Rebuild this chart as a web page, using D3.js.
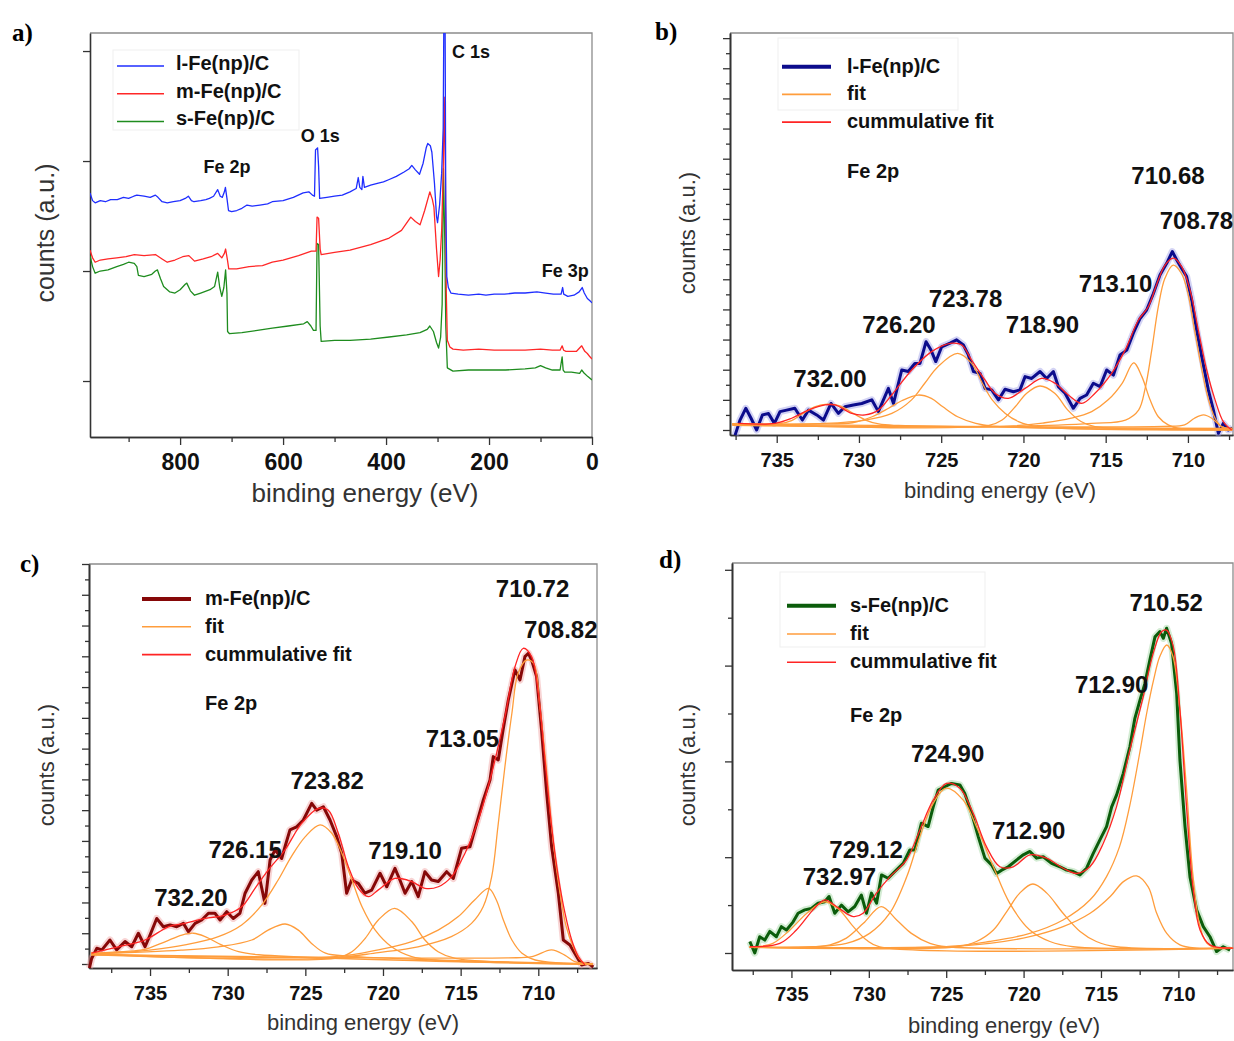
<!DOCTYPE html>
<html>
<head>
<meta charset="utf-8">
<script src="https://cdn.jsdelivr.net/npm/d3@7"></script>
<style>
  body { margin: 0; background: #fff; }
</style>
</head>
<body>
<svg id="fig" width="1234" height="1041"></svg>
<script>
// ---------------- panel a: survey spectra [binding energy eV, counts a.u.]
const surveyL = [[975,2.71],[970,2.64],[965,2.62],[955,2.64],[945,2.63],[935,2.65],[922,2.65],[910,2.67],[900,2.66],[890,2.68],[884,2.69],[870,2.68],[858,2.67],[848,2.69],[843,2.67],[835,2.63],[825,2.62],[813,2.63],[800,2.64],[790,2.66],[784,2.68],[778,2.64],[773,2.63],[760,2.64],[750,2.65],[743,2.66],[735,2.68],[727,2.74],[722,2.68],[718,2.67],[714,2.72],[712,2.76],[709,2.66],[706,2.55],[700,2.54],[690,2.55],[680,2.57],[670,2.6],[660,2.59],[645,2.6],[630,2.61],[621,2.63],[600,2.64],[580,2.67],[561,2.71],[550,2.72],[543,2.69],[539,2.68],[537,3.1],[533,3.12],[531,2.95],[529,2.66],[515,2.67],[500,2.68],[485,2.69],[470,2.72],[458,2.75],[454,2.85],[451,2.76],[447,2.74],[445,2.86],[442,2.76],[430,2.78],[415,2.8],[405,2.81],[395,2.83],[380,2.86],[365,2.9],[355,2.93],[350,2.96],[343,2.92],[335,2.88],[328,2.98],[322,3.12],[319,3.16],[314,3.14],[311,3.08],[306,2.8],[302,2.5],[300,2.44],[296,2.6],[292,2.89],[289,3.3],[287.5,4.5],[285.5,4.5],[284,2.6],[282,1.95],[279,1.85],[274,1.8],[260,1.79],[240,1.78],[220,1.79],[206,1.78],[190,1.79],[170,1.79],[150,1.8],[130,1.8],[107,1.81],[90,1.8],[75,1.79],[60,1.79],[57,1.85],[55,1.79],[47,1.77],[35,1.78],[25,1.81],[19,1.85],[15,1.8],[9,1.75],[4,1.73],[0,1.71]];
const surveyM = [[975,2.19],[970,2.12],[965,2.08],[955,2.1],[940,2.11],[923,2.12],[905,2.13],[889,2.15],[870,2.14],[848,2.15],[835,2.11],[825,2.08],[810,2.1],[795,2.13],[783,2.14],[772,2.09],[755,2.11],[740,2.13],[727,2.16],[719,2.12],[714,2.16],[711.6,2.2],[708,2.1],[705.5,2.02],[690,2.02],[666,2.04],[640,2.05],[621,2.08],[600,2.1],[570,2.14],[545,2.18],[536,2.18],[534,2.49],[531,2.48],[528,2.2],[526,2.15],[500,2.17],[470,2.19],[430,2.24],[394,2.3],[370,2.37],[352,2.49],[343,2.45],[334,2.42],[325,2.55],[315,2.72],[310,2.65],[307,2.58],[302,2.2],[298,1.95],[295,2.1],[292,2.37],[289,2.9],[287,3.58],[285,3.0],[283,1.8],[281,1.37],[276,1.31],[270,1.29],[250,1.28],[220,1.29],[190,1.28],[168,1.28],[130,1.28],[100,1.29],[77,1.28],[62,1.28],[58,1.32],[55,1.28],[50.6,1.27],[40,1.27],[30,1.27],[20,1.32],[14,1.27],[9,1.25],[4,1.22],[0,1.2]];
const surveyS = [[975,2.14],[970,2.04],[965,1.98],[955,2.0],[940,2.01],[923,2.04],[910,2.06],[900,2.08],[889,2.07],[884,2.04],[881,1.96],[870,1.95],[855,1.97],[848,2.0],[844,2.01],[838,1.93],[832,1.86],[820,1.81],[810,1.8],[800,1.83],[790,1.88],[787,1.89],[780,1.82],[772,1.78],[760,1.8],[742,1.83],[733,1.86],[727,1.99],[723,1.85],[719,1.77],[715,1.85],[711.6,2.01],[709,1.8],[707.8,1.45],[704,1.43],[680,1.44],[650,1.46],[621,1.48],[590,1.5],[560,1.52],[553,1.54],[546,1.5],[541,1.46],[536,1.46],[534,2.25],[531,2.24],[528,1.5],[526,1.36],[500,1.37],[470,1.37],[430,1.38],[394,1.4],[360,1.42],[334,1.44],[320,1.47],[315,1.5],[308,1.45],[302,1.35],[298,1.3],[294,1.4],[291,1.7],[288.6,2.93],[286,2.3],[284,1.5],[281,1.12],[270,1.09],[240,1.1],[200,1.1],[168,1.1],[130,1.11],[110,1.12],[100,1.14],[90,1.12],[77,1.1],[62,1.1],[58,1.22],[56,1.1],[53,1.08],[40,1.08],[24,1.07],[20,1.1],[15,1.07],[8,1.04],[0,1.01]];
const surveyNames = ['l-Fe(np)/C', 'm-Fe(np)/C', 's-Fe(np)/C'];
const surveyPeaks = [['C 1s', 235, 3.94], ['O 1s', 528, 3.17], ['Fe 2p', 709, 2.89], ['Fe 3p', 52, 1.95]];
const surveyTicks = [800, 600, 400, 200, 0];
const surveyMinor = [900, 700, 500, 300, 100];
const surveyYTicks = [1, 2, 3, 4];

// ---------------- panels b-d: Fe 2p region
const fe2pTicks = [735, 730, 725, 720, 715, 710];
const fe2pMinor = [737.5, 732.5, 727.5, 722.5, 717.5, 712.5, 707.5];
const fitNames = ['fit', 'cummulative fit'];

// b) l-Fe(np)/C
const bData = [[737.53,-0.17],[737.23,0.33],[736.88,0.72],[736.56,0.39],[736.22,0.0],[735.87,0.5],[735.5,0.55],[735.14,0.22],[734.8,0.61],[734.4,0.66],[733.9,0.72],[733.44,0.33],[733.07,0.66],[732.57,0.5],[732.16,0.33],[731.7,0.88],[731.25,0.55],[730.85,0.77],[730.34,0.83],[729.83,0.88],[729.22,1.0],[728.82,0.61],[728.21,1.38],[727.9,0.88],[727.4,1.99],[727.0,1.94],[726.6,2.21],[726.29,2.21],[725.92,2.93],[725.62,2.65],[725.33,2.27],[724.97,2.76],[724.46,2.88],[724.06,2.99],[723.65,2.82],[723.35,2.49],[723.04,1.94],[722.64,1.88],[722.33,1.38],[721.93,1.33],[721.52,1.0],[721.12,1.35],[720.61,1.27],[720.21,1.33],[719.9,1.77],[719.5,1.71],[718.99,1.94],[718.59,1.71],[718.18,1.94],[717.88,1.44],[717.47,1.22],[716.97,0.72],[716.56,1.05],[716.16,1.16],[715.75,1.55],[715.34,1.44],[714.94,1.99],[714.53,1.82],[714.13,2.49],[713.72,2.65],[713.32,3.21],[712.91,3.7],[712.51,3.98],[712.1,4.53],[711.7,5.14],[711.29,5.53],[710.95,5.92],[710.68,5.64],[710.38,5.36],[710.08,5.09],[709.77,4.31],[709.47,3.32],[709.16,2.43],[708.76,1.33],[708.45,0.66],[708.15,-0.11],[707.85,0.22],[707.54,0.0],[707.3,0.06]];
const bFits = [
  [[737.7,0.2],[734.9,0.2],[734.1,0.31],[733.4,0.55],[732.7,0.77],[731.9,0.86],[731.15,0.8],[730.35,0.55],[729.6,0.33],[728.8,0.2],[727.6,0.15],[707.3,0.05]],
  [[737.7,0.18],[732.5,0.2],[730.4,0.24],[729.2,0.44],[728.2,0.72],[727.4,0.97],[726.4,1.16],[725.6,1.05],[724.9,0.77],[724.0,0.44],[722.9,0.22],[721.9,0.13],[707.3,0.02]],
  [[737.7,0.2],[732.1,0.22],[729.6,0.33],[728.0,0.55],[726.8,1.0],[726.0,1.55],[725.2,2.1],[724.0,2.54],[723.15,2.21],[722.5,1.55],[721.9,1.0],[721.1,0.55],[720.3,0.28],[719.1,0.11],[707.3,0.0]],
  [[737.7,0.2],[722.1,0.15],[721.3,0.33],[720.5,0.77],[719.8,1.22],[719.0,1.46],[718.1,1.22],[717.3,0.66],[716.5,0.28],[715.65,0.11],[707.3,0.02]],
  [[737.7,0.18],[720.9,0.13],[718.7,0.24],[717.1,0.39],[715.85,0.61],[714.85,1.0],[714.0,1.55],[713.3,2.23],[712.8,1.77],[712.3,1.0],[711.8,0.44],[711.2,0.17],[710.6,0.06],[707.3,0.0]],
  [[737.7,0.15],[721.9,0.11],[715.85,0.22],[713.8,0.33],[713.0,0.66],[712.6,1.38],[712.2,2.65],[711.8,4.09],[711.4,5.03],[710.9,5.47],[710.4,5.2],[710.0,4.53],[709.6,3.32],[709.15,1.99],[708.75,1.0],[708.35,0.39],[707.95,0.11],[707.3,0.0]],
  [[737.7,0.2],[711.5,0.12],[710.2,0.17],[709.6,0.39],[709.05,0.5],[708.55,0.39],[707.95,0.11],[707.3,0.05]]
];
const bCum = [[737.33,0.22],[735.1,0.22],[734.09,0.39],[733.07,0.66],[732.06,0.83],[731.45,0.83],[730.44,0.55],[729.63,0.5],[728.82,0.66],[728.01,1.16],[726.79,1.99],[725.58,2.6],[724.36,2.88],[723.75,2.82],[723.15,2.32],[722.34,1.66],[721.73,1.22],[720.92,1.05],[719.9,1.38],[718.89,1.71],[718.08,1.55],[717.27,1.16],[716.46,0.88],[715.65,1.22],[714.64,1.88],[713.82,2.65],[713.01,3.65],[712.41,4.09],[711.8,4.98],[711.39,5.47],[710.89,5.7],[710.38,5.42],[709.87,4.64],[709.37,3.32],[708.86,1.99],[708.35,1.0],[707.85,0.28],[707.34,0.0]];
const bPeaks = [['732.00',731.76,1.42],['726.20',727.57,3.21],['723.78',723.52,4.09],['718.90',718.84,3.21],['713.10',714.4,4.57],['710.68',711.21,8.16],['708.78',709.48,6.66]];

// c) m-Fe(np)/C
const cData = [[738.9,-0.13],[738.76,0.18],[738.43,0.51],[738.1,0.46],[737.58,0.78],[737.15,0.46],[736.61,0.73],[736.18,0.56],[735.75,1.0],[735.32,0.56],[735.0,0.94],[734.57,1.48],[734.14,1.21],[733.71,1.27],[733.28,1.21],[732.85,1.32],[732.53,1.05],[732.1,1.32],[731.67,1.43],[731.24,1.65],[730.82,1.65],[730.49,1.43],[730.06,1.7],[729.64,1.48],[729.21,1.65],[728.88,2.3],[728.45,2.73],[728.03,3.0],[727.6,1.97],[727.27,3.38],[726.95,3.71],[726.52,3.43],[726.31,3.81],[725.99,4.36],[725.56,4.46],[725.13,4.68],[724.59,5.22],[724.27,5.0],[723.84,5.11],[723.41,4.68],[722.98,4.14],[722.66,3.6],[722.34,2.3],[722.02,2.73],[721.59,2.62],[721.16,2.3],[720.73,2.4],[720.19,2.95],[719.76,2.51],[719.23,3.11],[718.91,2.73],[718.58,2.3],[718.15,2.68],[717.73,2.19],[717.3,3.0],[716.87,2.73],[716.44,2.68],[715.9,3.0],[715.47,2.78],[714.94,3.76],[714.4,3.81],[713.97,4.57],[713.54,5.33],[713.11,5.98],[712.9,6.74],[712.58,6.63],[712.25,7.66],[711.93,8.58],[711.5,9.56],[711.18,9.23],[710.86,9.99],[710.64,10.1],[710.43,9.88],[710.11,9.34],[709.79,7.6],[709.46,5.55],[709.14,3.81],[708.71,2.3],[708.39,0.78],[707.96,0.62],[707.53,0.24],[707.21,-0.03],[706.78,0.02],[706.46,-0.1]];
const cFits = [
  [[738.8,0.35],[735.6,0.45],[735.1,0.51],[734.0,0.73],[732.95,0.94],[732.2,1.0],[731.45,0.89],[730.4,0.62],[729.3,0.4],[728.0,0.3],[706.5,-0.02]],
  [[738.8,0.33],[733.0,0.45],[730.6,0.56],[728.45,0.78],[727.4,1.1],[726.3,1.3],[725.45,1.1],[724.6,0.67],[723.7,0.35],[722.0,0.25],[706.5,0.0]],
  [[738.8,0.35],[737.0,0.37],[734.9,0.46],[732.75,0.62],[730.6,0.89],[729.1,1.27],[727.8,1.92],[726.75,2.73],[725.9,3.49],[725.0,4.14],[724.05,4.52],[723.3,4.25],[722.65,3.6],[722.0,2.73],[721.35,1.86],[720.5,1.1],[719.45,0.56],[718.15,0.24],[716.65,0.13],[706.5,0.0]],
  [[738.8,0.33],[722.9,0.2],[722.0,0.4],[721.15,0.83],[720.3,1.43],[719.25,1.81],[718.15,1.38],[717.3,0.78],[716.45,0.4],[715.35,0.18],[706.5,0.0]],
  [[738.8,0.33],[723.1,0.24],[720.3,0.46],[718.15,0.73],[716.45,1.1],[715.15,1.54],[714.1,2.08],[713.2,2.46],[712.7,2.08],[712.25,1.43],[711.7,0.78],[711.05,0.35],[710.2,0.13],[706.5,0.0]],
  [[738.8,0.3],[723.7,0.18],[720.3,0.37],[717.75,0.56],[715.6,0.89],[714.3,1.32],[713.55,1.86],[713.0,2.84],[712.6,4.46],[712.15,6.41],[711.7,8.15],[711.3,9.45],[710.75,9.88],[710.3,9.77],[709.9,8.36],[709.45,6.2],[709.05,4.03],[708.6,2.3],[708.2,1.21],[707.75,0.56],[707.2,0.08],[706.5,0.0]],
  [[738.8,0.3],[712.0,0.2],[710.4,0.24],[709.15,0.46],[708.3,0.29],[707.65,0.08],[706.5,0.0]]
];
const cCum = [[738.76,0.35],[737.04,0.56],[735.32,0.78],[733.82,1.21],[732.75,1.32],[731.46,1.48],[730.17,1.59],[729.1,1.86],[728.24,2.46],[727.38,3.06],[726.31,3.71],[725.24,4.57],[724.16,5.06],[723.52,5.0],[722.88,4.25],[722.23,3.16],[721.59,2.46],[720.94,2.19],[720.3,2.41],[719.23,2.78],[718.15,2.68],[717.3,2.46],[716.44,2.51],[715.58,2.84],[714.72,3.6],[713.86,4.68],[713.0,6.2],[712.15,8.04],[711.5,9.66],[710.97,10.26],[710.43,9.99],[710.0,8.8],[709.57,6.63],[709.14,4.46],[708.71,2.84],[708.28,1.65],[707.85,0.78],[707.42,0.24],[707.0,-0.03]];
const cPeaks = [['710.72',710.37,11.92],['708.82',708.55,10.59],['713.05',714.88,7.04],['723.82',723.6,5.68],['726.15',728.88,3.45],['719.10',718.58,3.41],['732.20',732.37,1.89]];

// d) s-Fe(np)/C
const dData = [[737.69,0.24],[737.37,0.0],[737.05,0.34],[736.72,0.27],[736.4,0.45],[735.97,0.34],[735.65,0.55],[735.32,0.48],[734.89,0.65],[734.57,0.83],[734.14,0.9],[733.71,0.93],[733.28,1.04],[732.85,1.07],[732.57,1.18],[732.2,0.83],[731.77,1.0],[731.34,0.86],[730.91,0.97],[730.48,1.21],[730.15,0.83],[729.83,1.25],[729.5,1.04],[729.18,1.63],[728.75,1.56],[728.32,1.7],[727.78,1.87],[727.35,2.15],[727.03,2.15],[726.6,2.71],[726.17,2.64],[725.84,3.05],[725.52,3.4],[725.09,3.47],[724.66,3.54],[724.12,3.51],[723.8,3.33],[723.36,2.92],[722.93,2.43],[722.5,1.98],[722.07,1.84],[721.75,1.66],[721.42,1.73],[720.99,1.8],[720.46,1.94],[720.02,2.05],[719.59,2.12],[719.16,1.98],[718.73,2.01],[718.19,1.87],[717.65,1.8],[717.22,1.73],[716.79,1.7],[716.36,1.63],[715.93,1.77],[715.5,2.08],[715.07,2.36],[714.64,2.64],[714.31,3.05],[713.99,3.3],[713.56,3.75],[713.13,4.31],[712.81,4.9],[712.48,5.28],[712.16,5.63],[711.84,6.12],[711.51,6.6],[711.19,6.71],[710.97,6.57],[710.76,6.78],[710.44,6.46],[710.11,5.42],[709.9,4.03],[709.57,2.64],[709.25,1.59],[708.82,0.9],[708.39,0.55],[707.96,0.34],[707.53,0.03],[707.1,0.13],[706.66,0.06]];
const dFits = [
  [[737.7,0.12],[737.25,0.13],[736.2,0.2],[735.1,0.48],[734.0,0.83],[732.85,1.07],[731.9,0.9],[731.0,0.55],[730.15,0.27],[729.3,0.13],[706.5,0.1]],
  [[737.7,0.12],[733.5,0.13],[732.5,0.17],[731.45,0.31],[730.35,0.62],[729.2,0.97],[728.2,0.69],[727.25,0.41],[726.05,0.2],[725.0,0.13],[706.5,0.1]],
  [[737.7,0.12],[733.6,0.13],[731.45,0.2],[729.95,0.41],[728.65,0.83],[727.55,1.59],[726.7,2.43],[725.85,3.12],[725.0,3.44],[723.9,3.19],[723.05,2.64],[721.95,1.8],[720.9,1.04],[719.6,0.48],[718.3,0.24],[716.8,0.13],[706.5,0.1]],
  [[737.7,0.12],[724.35,0.13],[723.05,0.24],[721.95,0.48],[721.1,0.86],[720.25,1.25],[719.4,1.44],[718.5,1.25],[717.45,0.83],[716.35,0.45],[715.3,0.24],[714.0,0.13],[706.5,0.1]],
  [[737.7,0.12],[725.0,0.13],[722.2,0.2],[719.6,0.34],[717.45,0.55],[715.7,0.83],[714.4,1.18],[713.55,1.49],[712.7,1.61],[711.95,1.38],[711.4,0.83],[710.75,0.41],[709.9,0.17],[708.8,0.1],[706.5,0.1]],
  [[737.7,0.12],[725.0,0.13],[722.2,0.24],[719.6,0.41],[717.45,0.69],[715.7,1.11],[714.65,1.59],[713.8,2.22],[713.15,3.06],[712.5,4.17],[712.05,5.0],[711.6,5.7],[711.2,6.19],[710.75,6.43],[710.35,6.19],[709.9,5.07],[709.45,3.33],[709.05,1.59],[708.6,0.55],[708.15,0.2],[707.5,0.1],[706.5,0.1]]
];
const dCum = [[737.69,0.13],[735.75,0.2],[734.68,0.48],[733.6,0.9],[732.85,1.11],[732.09,0.97],[731.01,0.76],[730.37,0.83],[729.51,1.25],[728.64,1.59],[727.57,1.94],[726.7,2.57],[725.84,3.19],[724.98,3.54],[724.12,3.44],[723.26,2.92],[722.4,2.22],[721.53,1.8],[720.67,1.8],[719.59,2.05],[718.52,1.98],[717.44,1.77],[716.58,1.66],[715.72,1.8],[714.85,2.29],[713.99,3.06],[713.13,4.24],[712.27,5.35],[711.62,6.26],[711.08,6.71],[710.76,6.74],[710.33,6.4],[709.9,5.07],[709.47,3.05],[709.04,1.32],[708.6,0.48],[707.96,0.17],[706.45,0.1]];
const dPeaks = [['710.52',710.79,7.13],['712.90',714.31,5.42],['724.90',724.91,3.99],['712.90',719.67,2.39],['729.12',730.18,1.98],['732.97',731.9,1.42]];

// ---------------- layout / style
const FONT = '"Liberation Sans", Arial, Helvetica, sans-serif';
const SERIF = '"Liberation Serif", "Times New Roman", serif';
const fitColor = '#ff9d3c';
const cumColor = '#ff2424';
const axisColor = '#333';

const style = {
  a: { x0: 90, x1: 592, y0: 33, y1: 437, xDom: [975, 0], yDom: [0.491, 4.164],
       letter: [12, 41], yTitle: [45, 233, 25], xTitle: [365, 502, 26], tickY: 33, tickFont: 23,
       legend: { lx0: 117, lx1: 164, tx: 176, by: 70, dy: 27.7, box: [113, 50, 186, 80] } },
  b: { x0: 730, x1: 1233, y0: 33, y1: 435, xDom: [737.84, 707.26], yDom: [-0.166, 13.17],
       letter: [655, 40], yTitle: [687, 233, 22], xTitle: [1000, 498, 22], tickY: 32, tickFont: 20,
       legend: { lx0: 782, lx1: 831, tx: 847, by: 72.7, dy: 27.7, feY: 178, box: [778, 38, 180, 72] } },
  c: { x0: 89, x1: 597, y0: 564, y1: 968, xDom: [738.93, 706.22], yDom: [-0.13, 13.0],
       letter: [20, 572], yTitle: [46, 765, 22], xTitle: [363, 1030, 22], tickY: 32, tickFont: 20,
       legend: { lx0: 142, lx1: 191, tx: 205, by: 605, dy: 27.8, feY: 710 } },
  d: { x0: 732, x1: 1233, y0: 563, y1: 970, xDom: [738.84, 706.47], yDom: [-0.355, 8.142],
       letter: [659, 568], yTitle: [687, 765, 22], xTitle: [1004, 1033, 22], tickY: 31, tickFont: 20,
       legend: { lx0: 787, lx1: 836, tx: 850, by: 611.7, dy: 28.3, feY: 721.7, box: [780, 572, 205, 75] } }
};

const svg = d3.select('#fig');

function scalesFor(p) {
  return {
    x: d3.scaleLinear().domain(p.xDom).range([p.x0, p.x1]),
    y: d3.scaleLinear().domain(p.yDom).range([p.y1, p.y0])
  };
}

function drawAxes(g, p, sc, ticks) {
  g.append('path')
    .attr('d', `M${p.x0},${p.y0}H${p.x1}V${p.y1}`)
    .attr('fill', 'none')
    .attr('stroke', '#8c8c8c')
    .attr('stroke-width', 1.3);

  g.append('g').attr('transform', `translate(0,${p.y1})`)
    .call(d3.axisBottom(sc.x).tickValues(ticks.xMinor).tickSize(5).tickSizeOuter(0).tickFormat(''));
  let gx = g.append('g').attr('transform', `translate(0,${p.y1})`)
    .call(d3.axisBottom(sc.x).tickValues(ticks.xMajor).tickSize(8).tickSizeOuter(0).tickFormat(d3.format('d')));
  gx.selectAll('text')
    .attr('y', p.tickY)
    .attr('dy', null)
    .attr('font-family', FONT)
    .attr('font-size', p.tickFont)
    .attr('font-weight', 'bold')
    .attr('fill', '#111');

  if (ticks.yMinor) {
    g.append('g').attr('transform', `translate(${p.x0},0)`)
      .call(d3.axisLeft(sc.y).tickValues(ticks.yMinor).tickSize(4).tickSizeOuter(0).tickFormat(''));
  }
  g.append('g').attr('transform', `translate(${p.x0},0)`)
    .call(d3.axisLeft(sc.y).tickValues(ticks.yMajor).tickSize(7).tickSizeOuter(0).tickFormat(''));

  g.selectAll('.domain').attr('stroke', axisColor).attr('stroke-width', 1.6);
  g.selectAll('.tick line').attr('stroke', axisColor).attr('stroke-width', 1.3);
}

function drawTitles(g, p, letter) {
  g.append('text')
    .attr('x', p.letter[0]).attr('y', p.letter[1])
    .attr('font-family', SERIF).attr('font-weight', 'bold').attr('font-size', 25)
    .attr('fill', '#000')
    .text(letter);

  g.append('text')
    .attr('transform', `translate(${p.yTitle[0]},${p.yTitle[1]}) rotate(-90)`)
    .attr('text-anchor', 'middle')
    .attr('dominant-baseline', 'central')
    .attr('font-family', FONT).attr('font-size', p.yTitle[2])
    .attr('fill', '#333')
    .text('counts (a.u.)');

  g.append('text')
    .attr('x', p.xTitle[0]).attr('y', p.xTitle[1])
    .attr('text-anchor', 'middle')
    .attr('font-family', FONT).attr('font-size', p.xTitle[2])
    .attr('fill', '#333')
    .text('binding energy (eV)');
}

function legendBox(g, box) {
  if (!box) return;
  g.append('rect')
    .attr('x', box[0]).attr('y', box[1]).attr('width', box[2]).attr('height', box[3])
    .attr('fill', 'none').attr('stroke', '#efefef').attr('stroke-width', 1);
}

// ---------------- panel a
function drawSurvey() {
  const p = style.a;
  const sc = scalesFor(p);
  const g = svg.append('g');

  svg.append('clipPath').attr('id', 'clipA')
    .append('rect').attr('x', p.x0).attr('y', p.y0).attr('width', p.x1 - p.x0).attr('height', p.y1 - p.y0);

  legendBox(g, p.legend.box);
  drawAxes(g, p, sc, { xMajor: surveyTicks, xMinor: surveyMinor, yMajor: surveyYTicks });
  drawTitles(g, p, 'a)');

  const colors = ['#1f2eff', '#ff2727', '#1e8c1e'];
  const series = [surveyS, surveyM, surveyL];
  const line = d3.line().x(d => sc.x(d[0])).y(d => sc.y(d[1]));
  const lg = g.append('g').attr('clip-path', 'url(#clipA)');
  series.forEach((s, i) => {
    lg.append('path')
      .datum(s)
      .attr('d', line)
      .attr('fill', 'none')
      .attr('stroke', colors[2 - i])
      .attr('stroke-width', 1.3)
      .attr('stroke-linejoin', 'round');
  });

  g.selectAll('.peakLbl')
    .data(surveyPeaks)
    .enter()
    .append('text')
    .attr('x', d => sc.x(d[1]))
    .attr('y', d => sc.y(d[2]))
    .attr('text-anchor', 'middle')
    .attr('font-family', FONT).attr('font-weight', 'bold').attr('font-size', 18)
    .attr('fill', '#111')
    .text(d => d[0]);

  const L = p.legend;
  surveyNames.forEach((n, i) => {
    let by = L.by + i * L.dy;
    g.append('line')
      .attr('x1', L.lx0).attr('x2', L.lx1)
      .attr('y1', by - 4).attr('y2', by - 4)
      .attr('stroke', colors[i]).attr('stroke-width', 1.5);
    g.append('text')
      .attr('x', L.tx).attr('y', by)
      .attr('font-family', FONT).attr('font-weight', 'bold').attr('font-size', 20)
      .attr('fill', '#111')
      .text(n);
  });
}

// ---------------- panels b-d
function drawFe2p(key, letter, name, data, fits, cum, peaks, color, halo, yTicks) {
  const p = style[key];
  const sc = scalesFor(p);
  const g = svg.append('g');

  legendBox(g, p.legend.box);
  drawAxes(g, p, sc, { xMajor: fe2pTicks, xMinor: fe2pMinor, yMajor: yTicks.major, yMinor: yTicks.minor });
  drawTitles(g, p, letter);

  const line = d3.line().x(d => sc.x(d[0])).y(d => sc.y(d[1]));
  const smooth = d3.line().x(d => sc.x(d[0])).y(d => sc.y(d[1])).curve(d3.curveCatmullRom.alpha(0.5));

  g.append('path').datum(data).attr('d', line)
    .attr('fill', 'none').attr('stroke', halo).attr('stroke-width', 7)
    .attr('stroke-opacity', 0.45).attr('stroke-linejoin', 'round');
  g.append('path').datum(data).attr('d', line)
    .attr('fill', 'none').attr('stroke', color).attr('stroke-width', 3)
    .attr('stroke-linejoin', 'round');

  g.selectAll('.fit')
    .data(fits)
    .enter()
    .append('path')
    .attr('d', smooth)
    .attr('fill', 'none')
    .attr('stroke', fitColor)
    .attr('stroke-width', 1.3);

  g.append('path').datum(cum).attr('d', smooth)
    .attr('fill', 'none').attr('stroke', cumColor).attr('stroke-width', 1.3);

  g.selectAll('.peakLbl')
    .data(peaks)
    .enter()
    .append('text')
    .attr('x', d => sc.x(d[1]))
    .attr('y', d => sc.y(d[2]))
    .attr('text-anchor', 'middle')
    .attr('font-family', FONT).attr('font-weight', 'bold').attr('font-size', 24)
    .attr('fill', '#111')
    .text(d => d[0]);

  // legend
  const L = p.legend;
  const rows = [[name, color, 4], [fitNames[0], fitColor, 1.6], [fitNames[1], cumColor, 1.6]];
  rows.forEach((r, i) => {
    let by = L.by + i * L.dy;
    g.append('line')
      .attr('x1', L.lx0).attr('x2', L.lx1)
      .attr('y1', by - 6).attr('y2', by - 6)
      .attr('stroke', r[1]).attr('stroke-width', r[2]);
    g.append('text')
      .attr('x', L.tx).attr('y', by)
      .attr('font-family', FONT).attr('font-weight', 'bold').attr('font-size', 20)
      .attr('fill', '#111')
      .text(r[0]);
  });
  g.append('text')
    .attr('x', L.tx).attr('y', L.feY)
    .attr('font-family', FONT).attr('font-weight', 'bold').attr('font-size', 20)
    .attr('fill', '#111')
    .text('Fe 2p');
}

drawSurvey();
drawFe2p('b', 'b)', 'l-Fe(np)/C', bData, bFits, bCum, bPeaks, '#0c0c8c', '#9d9de6',
  { major: d3.range(0, 14), minor: d3.range(0.5, 13, 1) });
drawFe2p('c', 'c)', 'm-Fe(np)/C', cData, cFits, cCum, cPeaks, '#860808', '#f0a0a0',
  { major: d3.range(0, 14), minor: d3.range(0.5, 13, 1) });
drawFe2p('d', 'd)', 's-Fe(np)/C', dData, dFits, dCum, dPeaks, '#0b5c0b', '#9fd49f',
  { major: [0, 2, 4, 6, 8], minor: [1, 3, 5, 7] });
</script>
</body>
</html>
